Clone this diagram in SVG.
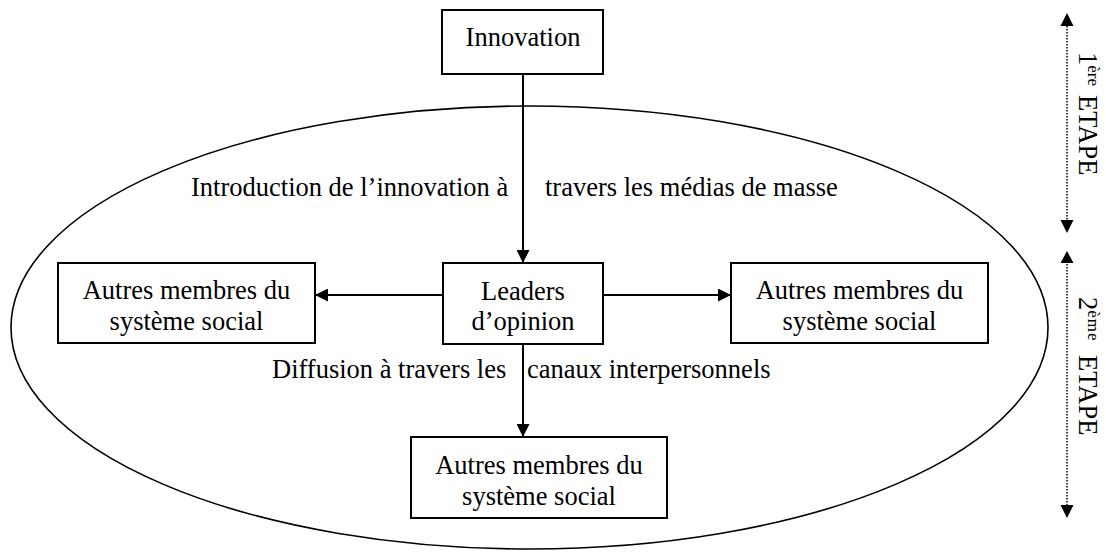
<svg xmlns="http://www.w3.org/2000/svg" width="1106" height="552" viewBox="0 0 1106 552">
<style>
  text { font-family: "Liberation Serif", "Times New Roman", serif; font-size: 26.5px; fill: #000; }
  .box { fill: #fff; stroke: #000; stroke-width: 2; }
  .c { text-anchor: middle; }
  .conn { stroke: #000; stroke-width: 2; fill: none; }
  .dot { stroke: #000; stroke-width: 1.5; stroke-dasharray: 1.5 1.5; fill: none; }
</style>
<defs>
  <marker id="ah" viewBox="0 0 10 10" refX="10" refY="5" markerWidth="6.5" markerHeight="6.5" orient="auto" markerUnits="strokeWidth">
    <path d="M0,0 L10,5 L0,10 Z" fill="#000"/>
  </marker>
  <marker id="ah2" viewBox="0 0 10 10" refX="10" refY="5" markerWidth="8.6" markerHeight="8.6" orient="auto" markerUnits="strokeWidth">
    <path d="M0,0 L10,5 L0,10 Z" fill="#000"/>
  </marker>
</defs>
<ellipse id="systeme" cx="529.5" cy="327.5" rx="518.5" ry="221.5" fill="none" stroke="#000" stroke-width="1.6"/>

<g id="connectors">
  <line class="conn" x1="523" y1="74" x2="523" y2="263" marker-end="url(#ah)"/>
  <line class="conn" x1="443" y1="295" x2="315" y2="295" marker-end="url(#ah)"/>
  <line class="conn" x1="603" y1="295" x2="731" y2="295" marker-end="url(#ah)"/>
  <line class="conn" x1="523" y1="344" x2="523" y2="437" marker-end="url(#ah)"/>
</g>

<g id="labels">
  <text x="191" y="196">Introduction de l’innovation à</text>
  <text x="545" y="196">travers les médias de masse</text>
  <text x="272" y="378">Diffusion à travers les</text>
  <text x="527" y="378">canaux interpersonnels</text>
</g>

<g id="innovation">
  <rect class="box" x="442" y="10" width="161" height="64"/>
  <text class="c" x="523" y="46">Innovation</text>
</g>
<g id="leaders">
  <rect class="box" x="443" y="263" width="160" height="81"/>
  <text class="c" x="523" y="300">Leaders</text>
  <text class="c" x="523" y="330">d’opinion</text>
</g>
<g id="autres-gauche">
  <rect class="box" x="58" y="263" width="257" height="80"/>
  <text class="c" x="186.5" y="299">Autres membres du</text>
  <text class="c" x="186.5" y="330">système social</text>
</g>
<g id="autres-droite">
  <rect class="box" x="731" y="263" width="257" height="80"/>
  <text class="c" x="859.5" y="299">Autres membres du</text>
  <text class="c" x="859.5" y="330">système social</text>
</g>
<g id="autres-bas">
  <rect class="box" x="411" y="437" width="256" height="81"/>
  <text class="c" x="539" y="474">Autres membres du</text>
  <text class="c" x="539" y="505">système social</text>
</g>

<g id="etapes">
  <line class="dot" x1="1067" y1="20" x2="1067" y2="226"/>
  <path d="M1067,13 L1073.5,26 L1060.5,26 Z" fill="#000"/>
  <path d="M1067,233 L1073.5,220 L1060.5,220 Z" fill="#000"/>
  <line class="dot" x1="1067" y1="258" x2="1067" y2="511"/>
  <path d="M1067,251 L1073.5,263 L1060.5,263 Z" fill="#000"/>
  <path d="M1067,518 L1073.5,505 L1060.5,505 Z" fill="#000"/>
  <g transform="translate(1079,0) rotate(90)">
    <text x="52" y="0">1<tspan font-size="17" dy="-9">ère</tspan><tspan x="95" y="0">ETAPE</tspan></text>
    <text x="297" y="0">2<tspan font-size="17" dy="-9" letter-spacing="1">ème</tspan><tspan x="355" y="0">ETAPE</tspan></text>
  </g>
</g>
</svg>
